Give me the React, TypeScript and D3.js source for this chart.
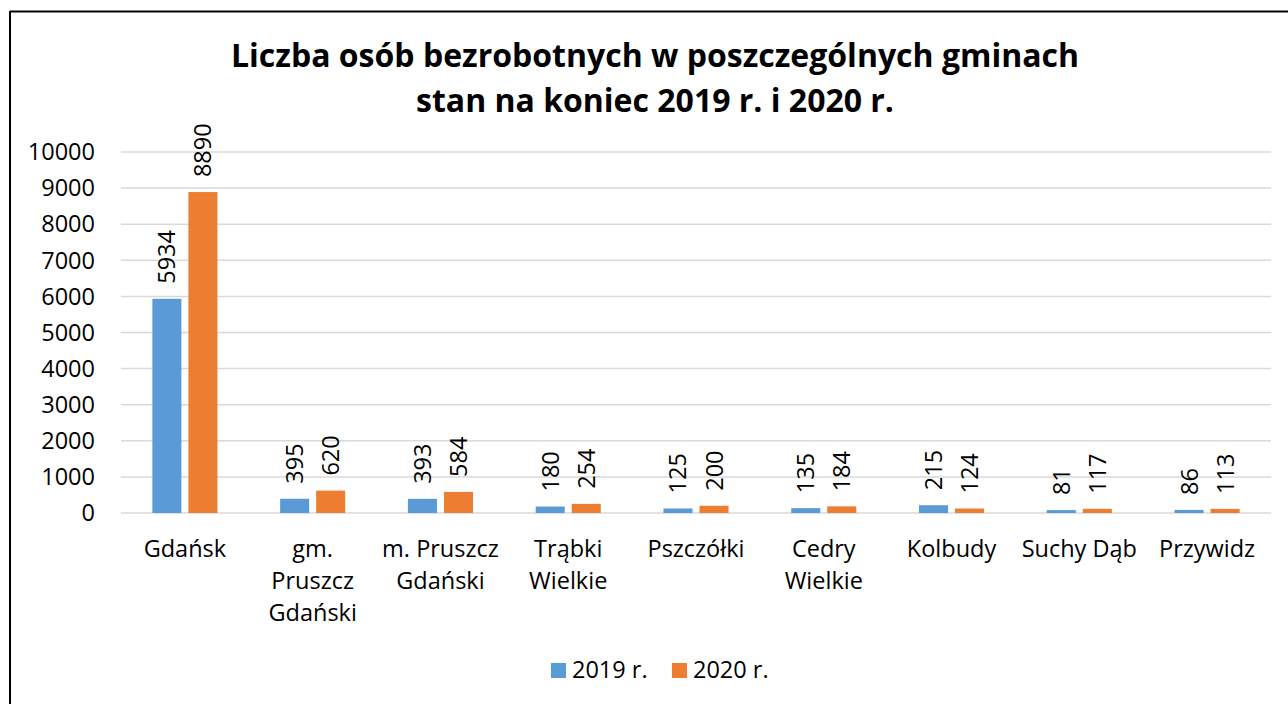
import React, { useEffect, useRef } from 'react'
import * as d3 from 'd3'

const categories = ['Gdańsk', 'gm. Pruszcz Gdański', 'm. Pruszcz Gdański', 'Trąbki Wielkie', 'Pszczółki', 'Cedry Wielkie', 'Kolbudy', 'Suchy Dąb', 'Przywidz']
const categoryLines = [['Gdańsk'], ['gm.', 'Pruszcz', 'Gdański'], ['m. Pruszcz', 'Gdański'], ['Trąbki', 'Wielkie'], ['Pszczółki'], ['Cedry', 'Wielkie'], ['Kolbudy'], ['Suchy Dąb'], ['Przywidz']]
const values2019 = [5934, 395, 393, 180, 125, 135, 215, 81, 86]
const values2020 = [8890, 620, 584, 254, 200, 184, 124, 117, 113]
const seriesNames = ['2019 r.', '2020 r.']
const yTicks = [0, 1000, 2000, 3000, 4000, 5000, 6000, 7000, 8000, 9000, 10000]
const colors = ['#5B9BD5', '#ED7D31']

const W = 1288
const H = 704
const font = '"Open Sans", sans-serif'
const fs = 23.5

export default function App() {
  const ref = useRef<SVGSVGElement>(null)

  useEffect(() => {
    document.body.style.margin = '0'
    const svg = d3.select(ref.current)
    svg.selectAll('*').remove()

    svg.append('rect').attr('width', W).attr('height', H).attr('fill', '#fff')

    // frame (only top and left visible)
    svg.append('line').attr('x1', 10).attr('x2', W).attr('y1', 11.5).attr('y2', 11.5)
      .attr('stroke', '#000').attr('stroke-width', 2)
    svg.append('line').attr('x1', 10).attr('x2', 10).attr('y1', 11).attr('y2', H)
      .attr('stroke', '#000').attr('stroke-width', 2)

    // title
    const title = svg.append('text').attr('text-anchor', 'middle')
      .attr('font-family', font).attr('font-weight', 700).attr('font-size', 32).attr('fill', '#000')
    title.append('tspan').attr('x', 655).attr('y', 67).text('Liczba osób bezrobotnych w poszczególnych gminach')
    title.append('tspan').attr('x', 655).attr('y', 112).text('stan na koniec 2019 r. i 2020 r.')

    const x0 = d3.scaleBand().domain(categories).range([121, 1271])
    const x1 = d3.scaleBand().domain(seriesNames).range([0, x0.bandwidth()]).paddingInner(0.194).paddingOuter(0.87)
    const y = d3.scaleLinear().domain([0, 10000]).range([513, 152])

    // gridlines
    svg.append('g').selectAll('line').data(yTicks).enter().append('line')
      .attr('x1', 121).attr('x2', 1271)
      .attr('y1', d => y(d)).attr('y2', d => y(d))
      .attr('stroke', '#D9D9D9').attr('stroke-width', 1.5)

    // y axis labels
    svg.append('g').selectAll('text').data(yTicks).enter().append('text')
      .attr('x', 95).attr('y', d => y(d)).attr('dy', '0.35em')
      .attr('text-anchor', 'end').attr('font-family', font).attr('font-size', fs).attr('fill', '#000')
      .text(d => String(d))

    const series = [values2019, values2020]
    series.forEach((vals, si) => {
      const g = svg.append('g')
      g.selectAll('rect').data(vals).enter().append('rect')
        .attr('x', (d, i) => (x0(categories[i]) as number) + (x1(seriesNames[si]) as number))
        .attr('width', x1.bandwidth())
        .attr('y', d => y(d))
        .attr('height', d => y(0) - y(d))
        .attr('fill', colors[si])
      g.selectAll('text').data(vals).enter().append('text')
        .attr('transform', (d, i) => {
          const cx = (x0(categories[i]) as number) + (x1(seriesNames[si]) as number) + x1.bandwidth() / 2
          return `translate(${cx + 8.5},${y(d) - 15}) rotate(-90)`
        })
        .attr('font-family', font).attr('font-size', fs).attr('fill', '#000')
        .text(d => String(d))
    })

    // category labels
    svg.append('g').selectAll('text').data(categoryLines).enter().append('text')
      .attr('text-anchor', 'middle').attr('font-family', font).attr('font-size', fs).attr('fill', '#000')
      .each(function (lines, i) {
        const cx = (x0(categories[i]) as number) + x0.bandwidth() / 2
        lines.forEach((ln, li) => {
          d3.select(this).append('tspan').attr('x', cx).attr('y', 557 + li * 32).text(ln)
        })
      })

    // legend
    const legendX = [551, 672]
    seriesNames.forEach((name, i) => {
      svg.append('rect').attr('x', legendX[i]).attr('y', 663).attr('width', 15).attr('height', 15).attr('fill', colors[i])
      svg.append('text').attr('x', legendX[i] + 21).attr('y', 678)
        .attr('font-family', font).attr('font-size', fs).attr('fill', '#000').text(name)
    })
  }, [])

  return <svg ref={ref} width={W} height={H} style={{ display: 'block' }} />
}
